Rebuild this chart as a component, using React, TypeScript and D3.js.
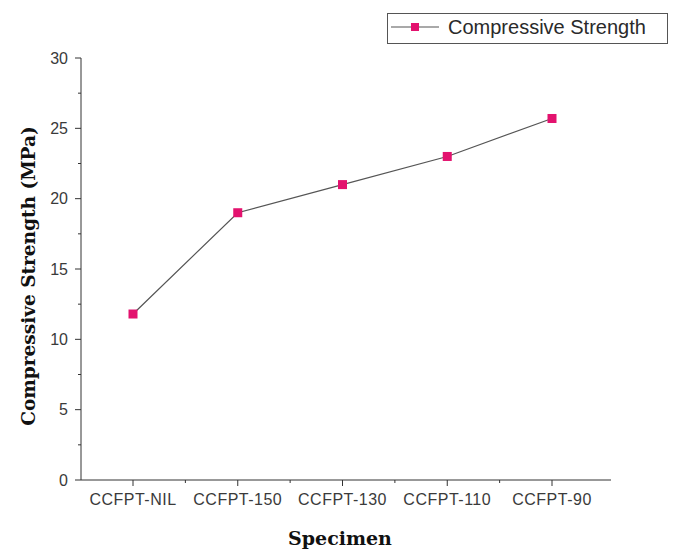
import React from "react";
import * as d3 from "d3";

const categories = ["CCFPT-NIL", "CCFPT-150", "CCFPT-130", "CCFPT-110", "CCFPT-90"];
const strength = [11.8, 19.0, 21.0, 23.0, 25.7];
const yTicks = [0, 5, 10, 15, 20, 25, 30];
const seriesName = "Compressive Strength";
const xTitle = "Specimen";
const yTitle = "Compressive Strength (MPa)";

const W = 677;
const H = 549;
const axisX0 = 81;
const axisX1 = 611;
const axisY0 = 480;
const axisY1 = 58;

export default function App() {
  const x = d3.scalePoint<string>().domain(categories).range([133, 552]);
  const y = d3.scaleLinear().domain([0, 30]).range([axisY0, axisY1]);
  const minorY = d3.range(2.5, 30, 5);
  const minorX = categories.slice(0, -1).map((c, i) => ((x(c) as number) + (x(categories[i + 1]) as number)) / 2);
  const line = d3
    .line<number>()
    .x((_, i) => x(categories[i]) as number)
    .y((d) => y(d));
  const pink = "#E3126E";
  const axisColor = "#333";
  const textColor = "#3a3a3a";
  return (
    <svg width={W} height={H} style={{ position: "absolute", left: 0, top: 0, background: "#fff" }}>
      <rect x={0} y={0} width={W} height={H} fill="#fff" />
      {/* axes */}
      <line x1={axisX0} x2={axisX0} y1={axisY1} y2={axisY0} stroke={axisColor} strokeWidth={1} />
      <line x1={axisX0} x2={axisX1} y1={axisY0} y2={axisY0} stroke={axisColor} strokeWidth={1} />
      {yTicks.map((t) => (
        <g key={"yt" + t}>
          <line x1={axisX0 - 6} x2={axisX0} y1={y(t)} y2={y(t)} stroke={axisColor} />
          <text
            x={axisX0 - 13}
            y={y(t)}
            dy="0.36em"
            textAnchor="end"
            fontFamily="Liberation Sans, Arial, sans-serif"
            fontSize={16}
            fill={textColor}
          >
            {t}
          </text>
        </g>
      ))}
      {minorY.map((t) => (
        <line key={"ym" + t} x1={axisX0 - 3} x2={axisX0} y1={y(t)} y2={y(t)} stroke={axisColor} />
      ))}
      {categories.map((c) => (
        <g key={"xt" + c}>
          <line x1={x(c)} x2={x(c)} y1={axisY0} y2={axisY0 + 6} stroke={axisColor} />
          <text
            x={x(c)}
            y={axisY0 + 25}
            textAnchor="middle"
            fontFamily="Liberation Sans, Arial, sans-serif"
            fontSize={16}
            letterSpacing={0.5}
            fill={textColor}
          >
            {c}
          </text>
        </g>
      ))}
      {minorX.map((m, i) => (
        <line key={"xm" + i} x1={m} x2={m} y1={axisY0} y2={axisY0 + 3} stroke={axisColor} />
      ))}
      {/* titles */}
      <text
        x={340}
        y={545}
        textAnchor="middle"
        fontFamily="DejaVu Serif, serif"
        fontWeight="bold"
        fontSize={19}
        fill="#111"
      >
        {xTitle}
      </text>
      <text
        transform={`translate(35, 276) rotate(-90)`}
        textAnchor="middle"
        fontFamily="DejaVu Serif, serif"
        fontWeight="bold"
        fontSize={18.5}
        fill="#111"
      >
        {yTitle}
      </text>
      {/* series */}
      <path d={line(strength) || ""} fill="none" stroke="#555" strokeWidth={1.2} />
      {strength.map((v, i) => (
        <rect
          key={"p" + i}
          x={(x(categories[i]) as number) - 4.5}
          y={y(v) - 4.5}
          width={9}
          height={9}
          fill={pink}
        />
      ))}
      {/* legend */}
      <rect x={387.5} y={13.5} width={280} height={30} fill="#fff" stroke="#555" strokeWidth={1} />
      <line x1={391} x2={439} y1={27} y2={27} stroke="#555" strokeWidth={1.2} />
      <rect x={411} y={23} width={8} height={8} fill={pink} />
      <text
        x={448}
        y={34}
        fontFamily="Liberation Sans, Arial, sans-serif"
        fontSize={20}
        fill="#2a2a2a"
      >
        {seriesName}
      </text>
    </svg>
  );
}
